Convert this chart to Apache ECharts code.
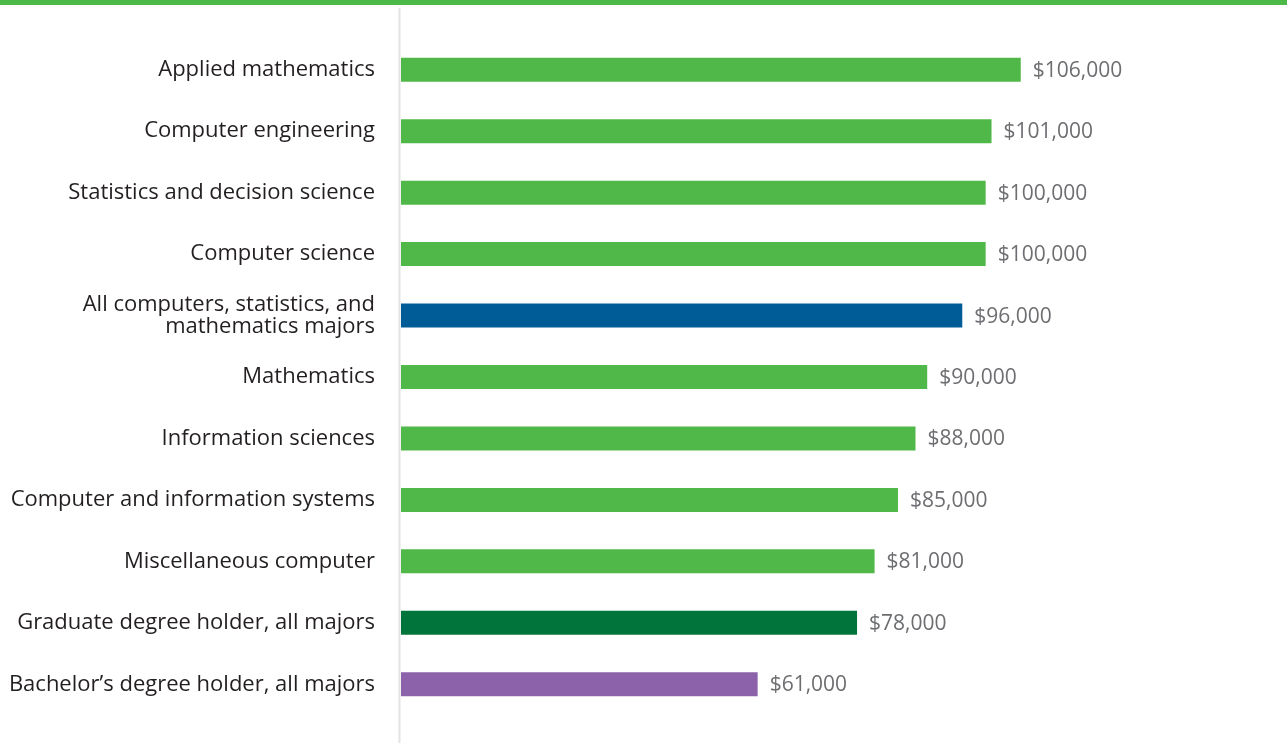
<!DOCTYPE html>
<html>
<head>
<meta charset="utf-8">
<script src="https://cdn.jsdelivr.net/npm/echarts@6/dist/echarts.min.js"></script>
<style>
  html, body { margin: 0; padding: 0; background: #fff; }
  #chart { width: 1287px; height: 743px; }
</style>
</head>
<body>
<div id="chart"></div>
<script>
var categories = [
  "Applied mathematics",
  "Computer engineering",
  "Statistics and decision science",
  "Computer science",
  "All computers, statistics, and\nmathematics majors",
  "Mathematics",
  "Information sciences",
  "Computer and information systems",
  "Miscellaneous computer",
  "Graduate degree holder, all majors",
  "Bachelor\u2019s degree holder, all majors"
];
var salaries = [106000, 101000, 100000, 100000, 96000, 90000, 88000, 85000, 81000, 78000, 61000];
var barColors = ["#50b848", "#50b848", "#50b848", "#50b848", "#005c97", "#50b848", "#50b848", "#50b848", "#50b848", "#00743a", "#8c63aa"];

var chart = echarts.init(document.getElementById("chart"));

var fontFam = "'Open Sans', 'Noto Sans', sans-serif";

chart.setOption({
  animation: false,
  grid: { left: 401, right: 9, top: 39, bottom: 28 },
  xAxis: {
    type: "value",
    min: 0,
    max: 150000,
    show: false
  },
  yAxis: {
    type: "category",
    inverse: true,
    data: categories,
    axisLine: { show: false },
    axisTick: { show: false },
    axisLabel: {
      margin: 26,
      color: "#231f20",
      fontFamily: fontFam,
      fontSize: 22,
      lineHeight: 22,
      align: "right"
    }
  },
  graphic: [
    { type: "rect", left: 0, top: 0, shape: { width: 1287, height: 5 }, style: { fill: "#4cb848" } },
    { type: "line", shape: { x1: 399.5, y1: 8, x2: 399.5, y2: 743 }, style: { stroke: "#e3e3e3", lineWidth: 2 } }
  ],
  series: [{
    type: "bar",
    barWidth: 24,
    data: salaries.map(function (v, i) {
      return { value: v, itemStyle: { color: barColors[i] } };
    }),
    label: {
      show: true,
      position: "right",
      distance: 12,
      color: "#6d6e71",
      fontFamily: fontFam,
      fontSize: 21,
      offset: [0, 1],
      formatter: function (p) {
        return "$" + p.value.toLocaleString("en-US");
      }
    }
  }]
});
</script>
</body>
</html>
